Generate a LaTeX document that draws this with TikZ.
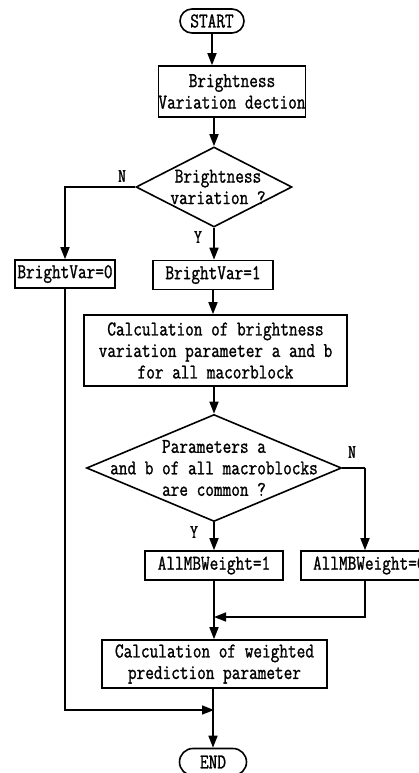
\documentclass[tikz,border=0pt]{standalone}
\usepackage{fontspec}
\setmonofont[FakeStretch=0.8,FakeBold=1.2]{Latin Modern Mono}
\usetikzlibrary{arrows.meta,shapes.geometric,shapes.misc}
\begin{document}
\begin{tikzpicture}[x=1pt,y=-1pt,
  every node/.style={font=\ttfamily\fontsize{21}{21.5}\selectfont, inner sep=0pt},
  box/.style={draw, line width=1.6pt, rectangle, align=center},
  term/.style={draw, line width=1.6pt, rounded rectangle, align=center},
  dia/.style={draw, line width=1.6pt, diamond},
  lbl/.style={font=\ttfamily\fontsize{19}{20}\selectfont},
  con/.style={line width=1.6pt},
  arr/.style={line width=1.6pt, -{Triangle[length=12pt,width=9pt]}}]
\useasboundingbox (0,0) rectangle (418,773);
\node[term, minimum width=64, minimum height=24] (start) at (212,21) {START};
\node[box, minimum width=146, minimum height=51] (b1) at (232,91.5) {Brightness\\Variation dection};
\node[dia, minimum width=156, minimum height=80] (d1) at (214,187) {};
\node[align=center] (d1t) at (218,187) {Brightness\\variation ?};
\node[box, minimum width=100, minimum height=28] (bv0) at (65,274) {BrightVar=0};
\node[box, minimum width=120, minimum height=29] (bv1) at (213,275) {BrightVar=1};
\node[box, minimum width=263, minimum height=71] (calc) at (215.5,350.5) {Calculation of brightness\\variation parameter a and b\\for all macorblock};
\node[dia, minimum width=255, minimum height=107] (d2) at (214,468) {};
\node[align=center] (d2t) at (214,468) {Parameters a\\and b of all macroblocks\\are common ?};
\node[box, minimum width=138, minimum height=29] (mb1) at (214,565.5) {AllMBWeight=1};
\node[box, minimum width=130, minimum height=29, anchor=west] (mb0) at (300,565.5) {\hspace*{7pt}AllMBWeight=0\hfill};
\node[box, minimum width=225, minimum height=48] (calc2) at (214.5,664) {Calculation of weighted\\prediction parameter};
\node[term, minimum width=67, minimum height=27] (end) at (213,762) {END};
\coordinate (j1) at (214,617);
\coordinate (j2) at (214,710);
\coordinate (rN) at (365,468);
% connectors
\draw[arr] (start.south) -- (start.south |- b1.north);
\draw[arr] (d1.north |- b1.south) -- (d1.north);
\draw[arr] (d1.west) -| (bv0.north);
\node[lbl] (nlab1) at (122,176) {N};
\draw[arr] (d1.south) -- (d1.south |- bv1.north);
\node[lbl] (ylab1) at (198,237) {Y};
\draw[arr] (bv1.south) -- (bv1.south |- calc.north);
\draw[arr] (calc.south -| d2.north) -- (d2.north);
\draw[con] (d2.east) -- (rN);
\draw[arr] (rN) -- (rN |- mb0.north);
\node[lbl] (nlab2) at (352,452) {N};
\draw[arr] (d2.south) -- (d2.south |- mb1.north);
\node[lbl] (ylab2) at (194,532) {Y};
\draw[arr] (mb1.south) -- (mb1.south |- calc2.north);
\draw[arr] (rN |- mb0.south) |- (j1);
\draw[arr] (calc2.south -| end.north) -- (end.north);
\draw[arr] (bv0.south) |- (j2);
\end{tikzpicture}
\end{document}
